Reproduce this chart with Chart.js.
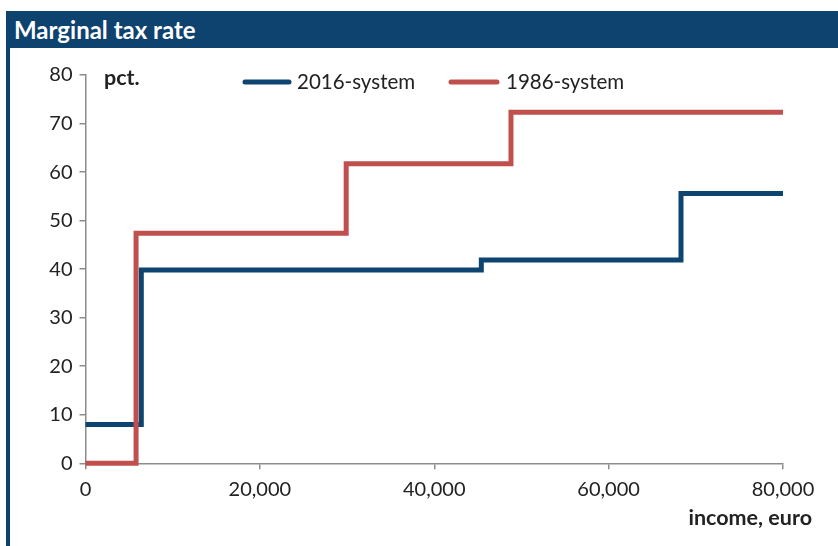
<!DOCTYPE html>
<html>
<head>
<meta charset="utf-8">
<script src="https://cdn.jsdelivr.net/npm/chart.js@4"></script>
<style>
  html, body { margin: 0; padding: 0; background: #fff; }
  #frame { position: relative; width: 838px; height: 546px; overflow: hidden; }
  #titlebar {
    position: absolute; left: 6px; top: 11px; width: 832px; height: 37px;
    background: #0e426f; color: #fff;
    font: bold 24px Lato, "Open Sans", sans-serif;
    line-height: 38px; padding-left: 8px; box-sizing: border-box;
  }
  #leftrule { position: absolute; left: 6px; top: 48px; width: 4px; height: 498px; background: #0e426f; }
  #chart { position: absolute; left: 0; top: 0; }
</style>
</head>
<body>
<div id="frame">
  <div id="titlebar">Marginal tax rate</div>
  <div id="leftrule"></div>
  <canvas id="chart" width="838" height="546"></canvas>
</div>
<script>
// Income thresholds (euro) and marginal rates (pct.) for each system
const seriesNames = ['2016-system', '1986-system'];
const incomes2016 = [0, 6400, 45400, 68300, 80000];
const rates2016   = [8, 39.8, 41.9, 55.6, 55.6];
const incomes1986 = [0, 5800, 29900, 48800, 80000];
const rates1986   = [0, 47.4, 61.7, 72.3, 72.3];
const xTicks = [0, 20000, 40000, 60000, 80000];
const yTicks = [0, 10, 20, 30, 40, 50, 60, 70, 80];

const BLUE = '#0e4470';
const RED = '#c0504d';
const AXIS = '#8c8c8c';
const TEXT = '#222';
const FONT = 'Lato, "Open Sans", sans-serif';

const toPoints = (xs, ys) => xs.map((x, i) => ({ x, y: ys[i] }));

// Legend and axis captions drawn inside the plot
const captions = {
  id: 'captions',
  afterDraw(chart) {
    const ctx = chart.ctx;
    ctx.save();
    // legend entries
    const entries = [
      { color: BLUE, x0: 245, x1: 289, tx: 297, label: seriesNames[0] },
      { color: RED,  x0: 451, x1: 497, tx: 506, label: seriesNames[1] }
    ];
    const ly = 82;
    entries.forEach(e => {
      ctx.strokeStyle = e.color;
      ctx.lineWidth = 5;
      ctx.lineCap = 'round';
      ctx.beginPath();
      ctx.moveTo(e.x0, ly);
      ctx.lineTo(e.x1, ly);
      ctx.stroke();
      ctx.fillStyle = TEXT;
      ctx.font = '20.5px ' + FONT;
      ctx.textBaseline = 'middle';
      ctx.textAlign = 'left';
      ctx.fillText(e.label, e.tx, ly);
    });
    // unit captions
    ctx.fillStyle = TEXT;
    ctx.font = 'bold 21.5px ' + FONT;
    ctx.textAlign = 'left';
    ctx.textBaseline = 'middle';
    ctx.fillText('pct.', 104, 78);
    ctx.textAlign = 'right';
    ctx.fillText('income, euro', 812, 518);
    ctx.restore();
  }
};

new Chart(document.getElementById('chart'), {
  type: 'line',
  data: {
    datasets: [
      {
        label: seriesNames[0],
        data: toPoints(incomes2016, rates2016),
        borderColor: BLUE,
        borderWidth: 5,
        stepped: true,
        pointRadius: 0,
        fill: false,
        borderJoinStyle: 'miter',
        clip: false,
        order: 1
      },
      {
        label: seriesNames[1],
        data: toPoints(incomes1986, rates1986),
        borderColor: RED,
        borderWidth: 5,
        stepped: true,
        pointRadius: 0,
        fill: false,
        borderJoinStyle: 'miter',
        clip: false,
        order: 0
      }
    ]
  },
  options: {
    responsive: false,
    animation: false,
    layout: { padding: { top: 75, right: 55, left: 0, bottom: 0 } },
    plugins: { legend: { display: false }, tooltip: { enabled: false } },
    scales: {
      x: {
        type: 'linear',
        min: 0, max: 80000,
        afterFit(s) { s.height = 82.7; },
        afterBuildTicks(s) { s.ticks = xTicks.map(v => ({ value: v })); },
        border: { color: AXIS, width: 1.5 },
        grid: { drawOnChartArea: false, drawTicks: true, tickLength: 6, color: AXIS, lineWidth: 1.5 },
        ticks: {
          padding: 8,
          color: TEXT,
          font: { family: FONT, size: 20 },
          maxRotation: 0,
          callback: v => v.toLocaleString('en-US')
        }
      },
      y: {
        min: 0, max: 80,
        afterFit(s) { s.width = 85.5; },
        afterBuildTicks(s) { s.ticks = yTicks.map(v => ({ value: v })); },
        border: { color: AXIS, width: 1.5 },
        grid: { drawOnChartArea: false, drawTicks: true, tickLength: 6, color: AXIS, lineWidth: 1.5 },
        ticks: {
          padding: 7,
          color: TEXT,
          font: { family: FONT, size: 20 }
        }
      }
    }
  },
  plugins: [captions]
});
</script>
</body>
</html>
